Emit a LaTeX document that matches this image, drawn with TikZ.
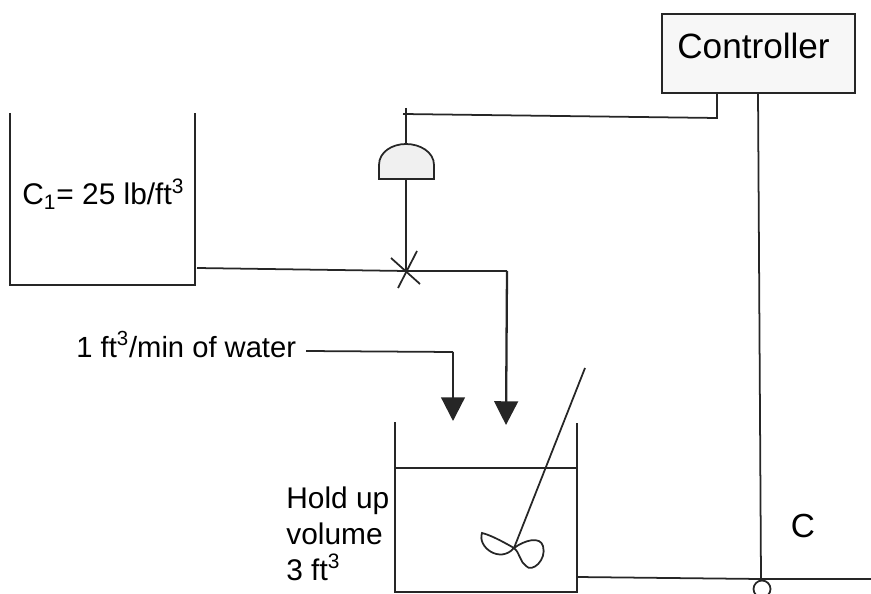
\documentclass[tikz,border=0pt]{standalone}
\usepackage{fontspec}
\setmainfont{Liberation Sans}
\usetikzlibrary{arrows.meta}

\tikzset{
  line/.style={draw=black!85, line width=1pt},
  flow/.style={line, line width=1.3pt, -{Triangle[length=13.5pt,width=13.5pt]}},
  label/.style={inner sep=0pt, anchor=base west, font=\fontsize{17}{17}\selectfont},
}

\begin{document}
\begin{tikzpicture}[x=0.02cm, y=-0.02cm]

   \useasboundingbox (0,0) rectangle (871,594);
   \clip (0,0) rectangle (871,594);

   % controller
   \node[line, fill=black!3, minimum width=193*0.02cm, minimum height=79*0.02cm, inner sep=0pt] (controller) at (758.5,53.5) {};
   \node[inner sep=0pt, anchor=base, font=\fontsize{20}{20}\selectfont] (controllertext) at (753.5,59) {Controller};

   % feed tank
   \coordinate (feedtl) at (10,113);
   \coordinate (feedbl) at (10,285);
   \coordinate (feedbr) at (195,285);
   \coordinate (feedtr) at (195,113);
   \draw[line] (feedtl) -- (feedbl) -- (feedbr) -- (feedtr);
   \node[label] (feedtext) at (22,205) {C\textsubscript{1}= 25 lb/ft\textsuperscript{3}};

   % mixing tank
   \coordinate (mixtl) at (395,422);
   \coordinate (mixbl) at (395,592);
   \coordinate (mixbr) at (577,592);
   \coordinate (mixtr) at (577,423);
   \draw[line] (mixtl) -- (mixbl) -- (mixbr) -- (mixtr);
   \coordinate (levell) at (394,468);
   \coordinate (levelr) at (577,468);
   \draw[line] (levell) -- (levelr);
   \node[label] (holdtext1) at (286,508) {Hold up};
   \node[label] (holdtext2) at (286,544) {volume};
   \node[label] (holdtext3) at (286,580) {3 ft\textsuperscript{3}};

   % stirrer
   \coordinate (shafttop) at (585,368);
   \coordinate (hub) at (514,548);
   \draw[line] (shafttop) -- (hub);
   \draw[line] (hub) .. controls (500,540) and (490,535) .. (482,533)
               .. controls (477,547) and (500,564) .. (514,548);
   \draw[line] (hub) .. controls (525,540) and (540,536) .. (543,546)
               .. controls (547,560) and (532,573) .. (526,566)
               .. controls (520,562) and (520,553) .. (hub);

   % feed pipe and valve
   \coordinate (feedout) at (197,268);
   \coordinate (valve) at (406,271);
   \coordinate (feedturn) at (507,271);
   \coordinate (feedend) at (506,425);
   \draw[line] (feedout) -- (valve) -- (feedturn);
   \draw[flow] (feedturn) -- (feedend);
   \draw[line] (391,258) -- (420,284);
   \draw[line] (417,251) -- (398,288);

   % water line
   \node[label, font=\fontsize{16.6}{16.6}\selectfont] (watertext) at (76,357) {1 ft\textsuperscript{3}/min of water};
   \coordinate (waterstart) at (306,351);
   \coordinate (waterturn) at (453,352);
   \coordinate (waterend) at (453,421);
   \draw[line] (waterstart) -- (waterturn);
   \draw[flow] (waterturn) -- (waterend);

   % actuator
   \coordinate (actbl) at (379,179);
   \coordinate (actbr) at (434,179);
   \coordinate (acttop) at (406,144);
   \coordinate (signaltop) at (406,108);
   \draw[line, fill=black!6] (actbl) -- (379,165) .. controls (379,152) and (392,144) .. (acttop)
        .. controls (420,144) and (434,152) .. (434,165) -- (actbr) -- cycle;
   \draw[line] (actbl -| valve) -- (valve);
   \draw[line] (signaltop) -- (acttop);

   % signal lines
   \coordinate (signalleft) at (403,114);
   \coordinate (signalturn) at (717,118);
   \draw[line] (signalleft) -- (signalturn) -- (signalturn |- controller.south);

   % outlet and sensor
   \coordinate (outstart) at (577,577);
   \coordinate (sensor) at (761,579);
   \coordinate (sensortop) at (758,93);
   \coordinate (outend) at (871,579);
   \draw[line] (outstart) -- (sensor) -- (outend);
   \draw[line] (sensortop) -- (sensor);
   \draw[line] (762,589) circle (8.5);
   \node[inner sep=0pt, anchor=base, font=\fontsize{19}{19}\selectfont] (outtext) at (803,537) {C};

\end{tikzpicture}
\end{document}
